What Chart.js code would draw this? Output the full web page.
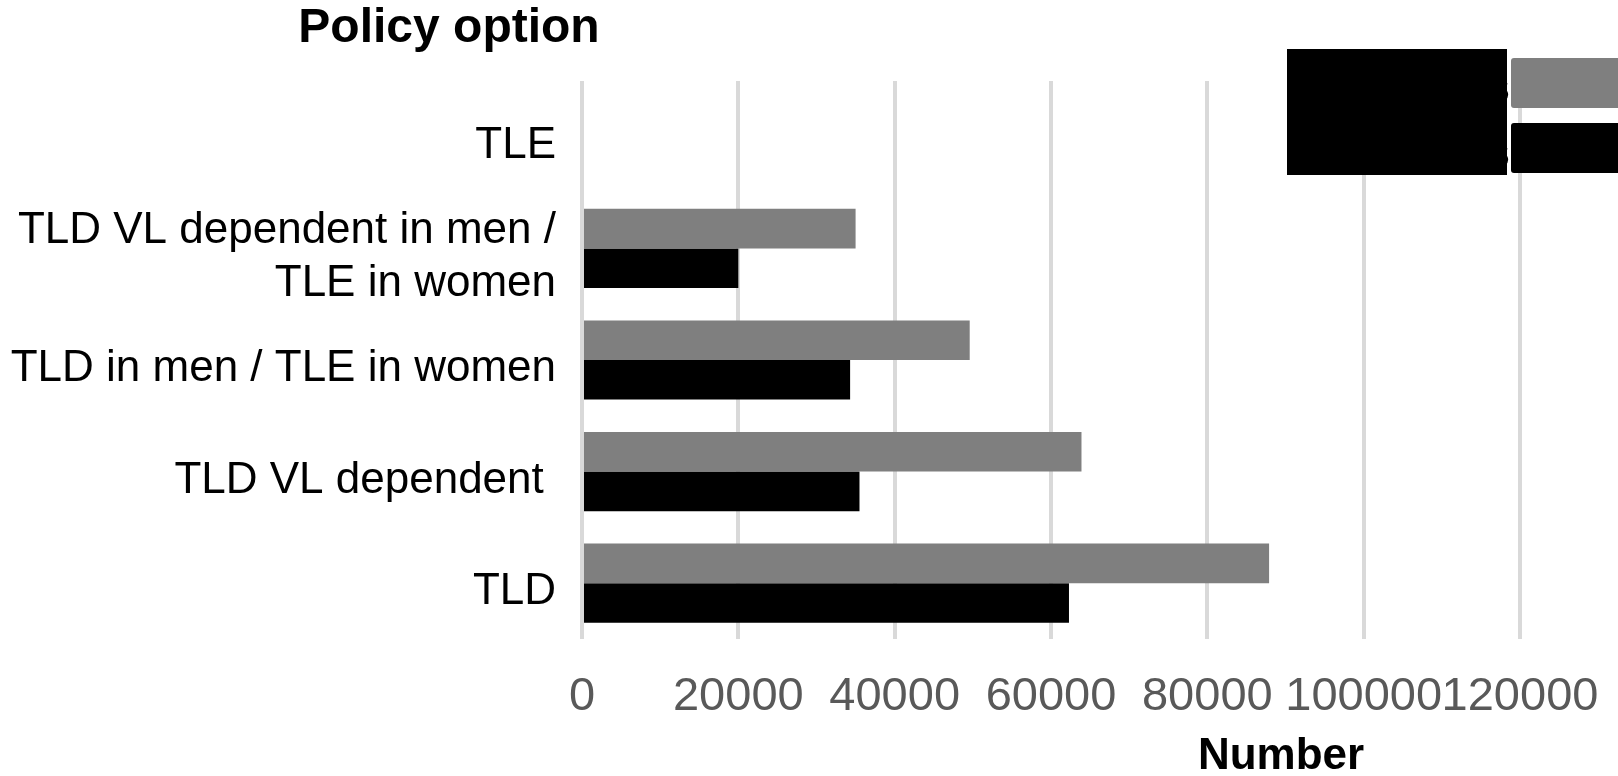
<!DOCTYPE html>
<html>
<head>
<meta charset="utf-8">
<title>Policy option</title>
<script src="https://cdn.jsdelivr.net/npm/chart.js@4/dist/chart.umd.min.js"></script>
<style>
    html, body { margin: 0; padding: 0; background: #fff; }
    #wrap { width: 1618px; height: 776px; position: relative; }
</style>
</head>
<body>
<div id="wrap"><canvas id="chart"></canvas></div>
<script>
// Datos
const categories = [
    "TLE",
    ["TLD VL dependent in men /", "TLE in women"],
    "TLD in men / TLE in women",
    "TLD VL dependent ",
    "TLD"
];
const seriesNames = ["Deaths", "Infections"];
const grayValues = [0, 35000, 49600, 63900, 87900];
const blackValues = [0, 20000, 34300, 35500, 62300];
const xTicks = [0, 20000, 40000, 60000, 80000, 100000, 120000];

const FONT = "'Liberation Sans', Arial, sans-serif";

// Títulos de ejes y leyenda tapada
const overlayPlugin = {
    id: "overlay",
    afterDraw(chart) {
        const ctx = chart.ctx;
        const area = chart.chartArea;
        ctx.save();

        ctx.fillStyle = "#000";
        ctx.textAlign = "center";
        ctx.textBaseline = "middle";
        ctx.font = "bold 48px " + FONT;
        ctx.fillText("Policy option", area.left - 133, 29);

        ctx.font = "bold 44px " + FONT;
        ctx.fillText("Number", area.left + 699, 757);

        // Leyenda
        const colors = chart.data.datasets.map((d) => d.backgroundColor);
        const swatchX = 1511;
        const rows = [58, 123];
        ctx.font = "bold 44px " + FONT;
        ctx.textAlign = "right";
        ctx.textBaseline = "alphabetic";
        rows.forEach((top, i) => {
            ctx.fillStyle = "#000";
            ctx.fillText(seriesNames[i], swatchX - 1, top + 44);
            ctx.fillStyle = colors[i];
            ctx.beginPath();
            ctx.roundRect(swatchX, top, 120, 50, 3);
            ctx.fill();
        });
        ctx.fillStyle = "#000";
        ctx.fillRect(1287, 49, 220, 126);

        ctx.restore();
    }
};

new Chart(document.getElementById("chart"), {
    type: "bar",
    data: {
        labels: categories,
        datasets: [
            {
                label: seriesNames[0],
                data: grayValues,
                backgroundColor: "#7f7f7f",
                borderWidth: 0
            },
            {
                label: seriesNames[1],
                data: blackValues,
                backgroundColor: "#000000",
                borderWidth: 0
            }
        ]
    },
    options: {
        indexAxis: "y",
        responsive: true,
        maintainAspectRatio: false,
        animation: false,
        layout: { padding: { top: 81, right: 98, left: 0, bottom: 0 } },
        datasets: {
            bar: { categoryPercentage: 0.71, barPercentage: 1.0 }
        },
        plugins: {
            legend: { display: false },
            title: { display: false },
            tooltip: { enabled: false }
        },
        scales: {
            x: {
                min: xTicks[0],
                max: xTicks[xTicks.length - 1],
                afterBuildTicks: (scale) => {
                    scale.ticks = xTicks.map((v) => ({ value: v }));
                },
                afterFit: (scale) => {
                    scale.height = 137;
                    scale.paddingLeft = 0;
                    scale.paddingRight = 0;
                },
                grid: {
                    color: "#d9d9d9",
                    lineWidth: 4,
                    drawTicks: false
                },
                border: { display: false },
                ticks: {
                    color: "#595959",
                    padding: 30,
                    maxRotation: 0,
                    autoSkip: false,
                    font: { family: FONT, size: 47 },
                    callback: (v) => String(v)
                }
            },
            y: {
                afterFit: (scale) => {
                    scale.width = 582;
                },
                grid: { display: false },
                border: { display: false },
                ticks: {
                    color: "#000",
                    padding: 18,
                    labelOffset: 9,
                    autoSkip: false,
                    font: { family: FONT, size: 44, lineHeight: 1.22 }
                }
            }
        }
    },
    plugins: [overlayPlugin]
});
</script>
</body>
</html>
